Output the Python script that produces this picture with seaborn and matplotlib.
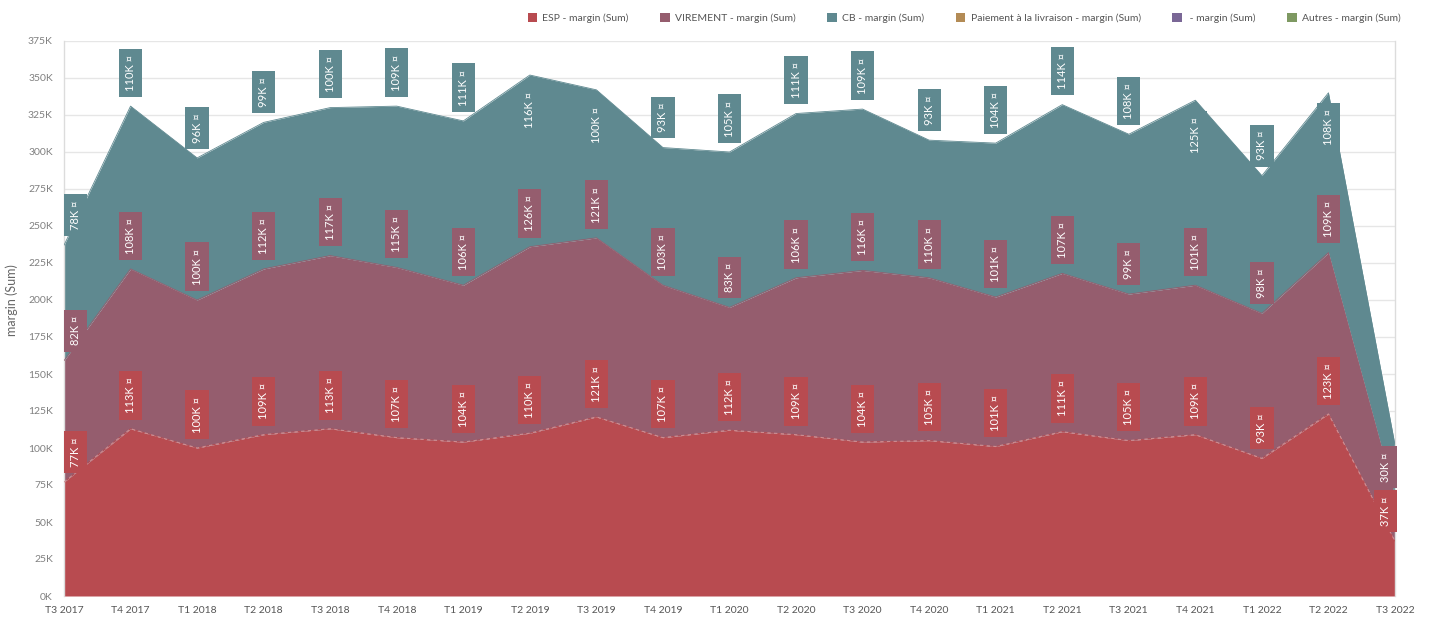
import numpy as np
import pandas as pd
import seaborn as sns
import matplotlib.pyplot as plt
from matplotlib.patches import Patch

# Quarterly margin (sum) per payment method
quarters = ["T3 2017", "T4 2017", "T1 2018", "T2 2018", "T3 2018", "T4 2018",
            "T1 2019", "T2 2019", "T3 2019", "T4 2019", "T1 2020", "T2 2020",
            "T3 2020", "T4 2020", "T1 2021", "T2 2021", "T3 2021", "T4 2021",
            "T1 2022", "T2 2022", "T3 2022"]
esp_k = [77, 113, 100, 109, 113, 107, 104, 110, 121, 107, 112, 109,
         104, 105, 101, 111, 105, 109, 93, 123, 37]
virement_k = [82, 108, 100, 112, 117, 115, 106, 126, 121, 103, 83, 106,
              116, 110, 101, 107, 99, 101, 98, 109, 30]
cb_k = [78, 110, 96, 99, 100, 109, 111, 116, 100, 93, 105, 111,
        109, 93, 104, 114, 108, 125, 93, 108, 35]

series_names = ["ESP - margin (Sum)", "VIREMENT - margin (Sum)", "CB - margin (Sum)",
                "Paiement à la livraison - margin (Sum)", " - margin (Sum)",
                "Autres - margin (Sum)"]
series_colors = ["#B84B50", "#955D6E", "#5F8990", "#B38B55", "#7A6796", "#7E9962"]
y_ticks = list(range(0, 375001, 25000))

sns.set_theme(style="whitegrid")
plt.rcParams["font.family"] = ["Lato", "DejaVu Sans"]

W, H = 1430, 621
fig = plt.figure(figsize=(W / 100, H / 100), dpi=100)
fig.patch.set_facecolor("white")
ax = fig.add_axes([64 / W, 25 / H, (1395 - 64) / W, (596 - 41) / H])
ax.set_facecolor("white")

x = np.arange(len(quarters))
values = [np.array(esp_k) * 1000, np.array(virement_k) * 1000, np.array(cb_k) * 1000]
tops = np.cumsum(values, axis=0)
bottoms = np.vstack([np.zeros(len(x)), tops[:-1]])

long = pd.DataFrame({
    "idx": np.tile(x, 3),
    "top": tops.ravel(),
    "series": np.repeat(series_names[:3], len(x)),
})

# stacked areas: fill between consecutive cumulative curves
for k in range(3):
    ax.fill_between(x, bottoms[k], tops[k], color=series_colors[k], lw=0, zorder=2)
sns.lineplot(data=long, x="idx", y="top", hue="series",
             palette=series_colors[:3], legend=False, lw=0.6, ax=ax, zorder=3)
ax.plot(x, tops[0], color="white", lw=0.8, ls=(0, (3, 3)), alpha=0.35, zorder=4)

ax.set_xlim(0, len(x) - 1)
ax.set_ylim(0, 375000)
ax.set_xticks(x)
ax.set_xticklabels(quarters, fontsize=7.5, color="#555555")
ax.set_yticks(y_ticks)
ax.set_yticklabels([f"{v // 1000}K" for v in y_ticks], fontsize=7.5, color="#808080")
ax.tick_params(axis="both", length=0)
ax.tick_params(axis="x", pad=7)
ax.tick_params(axis="y", pad=8)
ax.set_xlabel("")
ax.set_ylabel("")
ax.grid(axis="x", visible=False)
ax.grid(axis="y", color="#e6e6e6", lw=1)
for side in ["top", "bottom"]:
    ax.spines[side].set_visible(False)
for side in ["left", "right"]:
    ax.spines[side].set_color("#dcdcdc")
    ax.spines[side].set_linewidth(1)

fig.text(12 / W, 1 - 300 / H, "margin (Sum)", rotation=90, ha="center",
         va="center", fontsize=9, color="#666666")

# rotated value labels above each stacked point
inside_threshold = 333000
for k in range(3):
    for i in range(len(x)):
        if k == 2 and i == len(x) - 1:
            continue
        txt = f"{int(round(values[k][i] / 1000))}K ¤"
        dx = 8 if i == 0 else (-7 if i == len(x) - 1 else 0)
        if k == 2 and tops[k][i] > inside_threshold:
            dy, va = -12, "top"
        else:
            dy, va = 11, "bottom"
        ax.annotate(txt, xy=(i, tops[k][i]), xytext=(dx, dy),
                    textcoords="offset points", rotation=90, ha="center", va=va,
                    fontsize=8, color="white", zorder=6, annotation_clip=False,
                    bbox=dict(boxstyle="square,pad=0.55", fc=series_colors[k],
                              ec="none"))

handles = [Patch(facecolor=c, edgecolor="none") for c in series_colors]
fig.legend(handles, series_names, loc="center right",
           bbox_to_anchor=(1410 / W, 1 - 18 / H), ncol=6, frameon=False,
           fontsize=7.5, handlelength=0.9, handleheight=0.9, handletextpad=0.5,
           columnspacing=3.05, labelcolor="#555555")

fig.savefig("out.png", dpi=100, facecolor="white")
